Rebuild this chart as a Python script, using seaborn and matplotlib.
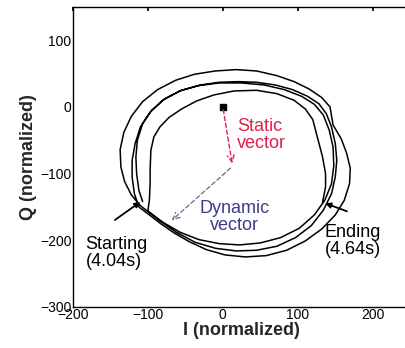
import numpy as np
import pandas as pd
import matplotlib
matplotlib.use("Agg")
import matplotlib.pyplot as plt
import seaborn as sns

# trajectory, one list per turn (I, Q normalized), clockwise
i_turn1 = [-107, -112, -115, -116, -114, -107, -95, -78, -55, -30, -5, 20, 45, 70, 93, 113, 128, 138,
           145, 150, 152, 150, 145, 134, 118, 97, 72, 45, 18, -10, -37, -62, -85, -110]
q_turn1 = [-142, -125, -100, -75, -50, -25, -5, 12, 25, 33, 37, 38, 37, 33, 26, 16, 5, -10,
           -30, -55, -80, -105, -130, -155, -178, -196, -209, -215, -216, -212, -203, -188, -170, -148]

i_turn2 = [-122, -131, -136, -137, -132, -122, -107, -87, -63, -38, -10, 18, 45, 72, 95, 115, 132, 143,
           147, 158, 165, 170, 169, 162, 150, 132, 110, 85, 58, 30, 3, -22, -45, -65, -83, -98, -112]
q_turn2 = [-132, -112, -90, -64, -38, -14, 8, 26, 40, 49, 54, 56, 54, 47, 38, 27, 14, 0,
           -27, -48, -69, -92, -115, -140, -162, -183, -201, -215, -223, -225, -222, -214, -202, -189, -175, -162, -150]

i_turn3 = [-118, -121, -121, -117, -110, -97, -80, -58, -32, -5, 25, 55, 82, 105, 122, 134,
           142, 147, 148, 145, 136, 122, 102, 77, 50, 22, -5, -32, -57, -80, -100]
q_turn3 = [-130, -105, -80, -55, -30, -8, 10, 24, 32, 36, 36, 33, 26, 16, 4, -12,
           -35, -60, -88, -115, -140, -162, -182, -196, -204, -207, -205, -199, -188, -173, -156]

i_turn4 = [-98, -97, -97, -96, -92, -84, -72, -55, -35, -12, 15, 45, 72, 95, 110, 120, 126, 133, 137, 137, 133]
q_turn4 = [-140, -115, -95, -65, -45, -30, -16, -3, 9, 18, 24, 25, 20, 10, -3, -19, -45, -75, -100, -120, -143]

static_start = (0, 0)
static_end = (13, -89)
dynamic_end = (-71, -173)

df = pd.DataFrame({
    "I": i_turn1 + i_turn2 + i_turn3 + i_turn4,
    "Q": q_turn1 + q_turn2 + q_turn3 + q_turn4,
})

sns.set_theme(style="white")
plt.rcParams["font.family"] = ["Liberation Sans", "DejaVu Sans"]

fig = plt.figure(figsize=(4.05, 3.48), dpi=100)
ax = fig.add_axes([0.180, 0.118, 0.833, 0.862])

sns.lineplot(data=df, x="I", y="Q", sort=False, estimator=None,
             color="black", linewidth=1.1, ax=ax)

# static vector marker + arrows
ax.plot(*static_start, marker="s", color="black", markersize=5)
ax.annotate("", xy=static_end, xytext=static_start,
            arrowprops=dict(arrowstyle="->", color="#e0204a", lw=1.0,
                            linestyle=(0, (3, 2))))
ax.annotate("", xy=dynamic_end, xytext=static_end,
            arrowprops=dict(arrowstyle="->", color="#6e7890", lw=1.0,
                            linestyle=(0, (3, 2))))

ax.text(19, -16, "Static\nvector", color="#e0204a", fontsize=13,
        va="top", ha="left", linespacing=1.0)
ax.text(16, -139, "Dynamic\nvector", color="#3c3c8c", fontsize=13,
        va="top", ha="center", linespacing=1.0)
ax.text(-183, -194, "Starting\n(4.04s)", color="black", fontsize=13,
        va="top", ha="left", linespacing=1.0)
ax.text(136, -176, "Ending\n(4.64s)", color="black", fontsize=13,
        va="top", ha="left", linespacing=1.0)

ax.annotate("", xy=(-107, -140), xytext=(-147, -172),
            arrowprops=dict(arrowstyle="-|>", color="black", lw=1.3,
                            mutation_scale=8))
ax.annotate("", xy=(133, -143), xytext=(169, -158),
            arrowprops=dict(arrowstyle="-|>", color="black", lw=1.3,
                            mutation_scale=8))

ax.set_xlim(-200, 250)
ax.set_ylim(-300, 150)
ax.set_xticks([-200, -100, 0, 100, 200])
ax.set_yticks([-300, -200, -100, 0, 100])
ax.tick_params(direction="in", length=3, labelsize=10, top=True, right=True,
               colors="black", pad=1)
for s in ax.spines.values():
    s.set_color("black")
    s.set_linewidth(1.0)

ax.set_xlabel("I (normalized)", fontsize=13, fontweight="bold", labelpad=0)
ax.set_ylabel("Q (normalized)", fontsize=13, fontweight="bold", labelpad=2)

fig.savefig("out.png", dpi=100)
